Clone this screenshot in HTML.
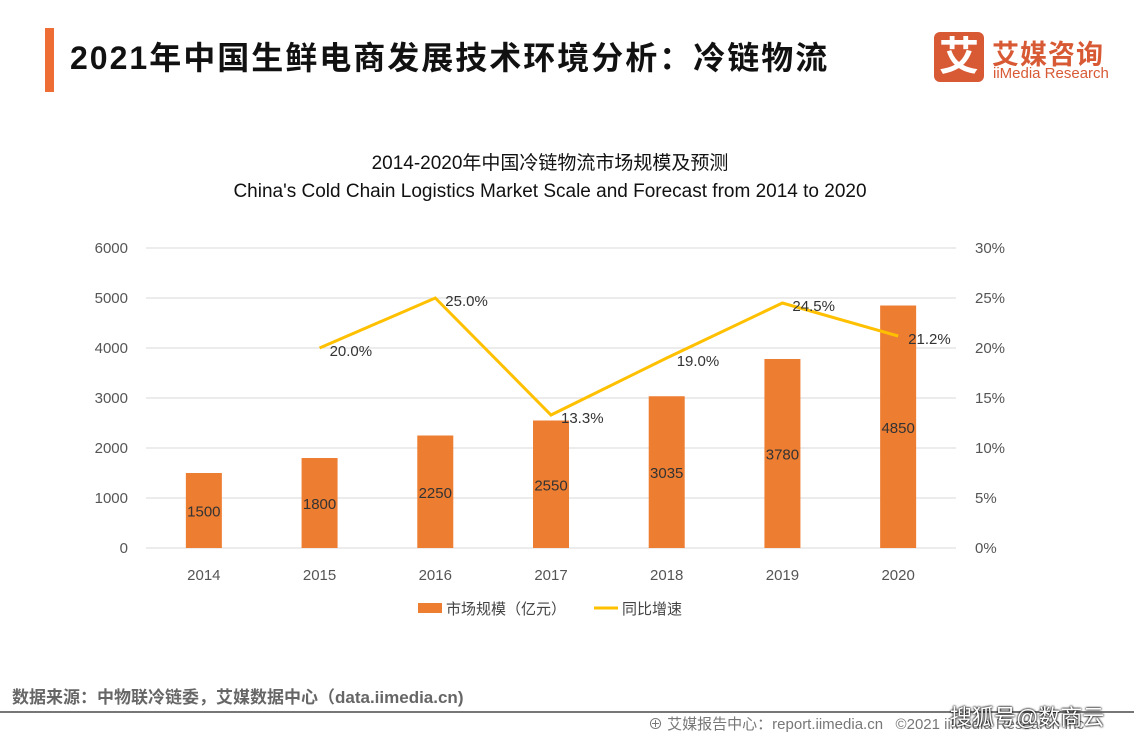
<!DOCTYPE html>
<html><head><meta charset="utf-8"><style>
body{margin:0;width:1134px;height:737px;background:#fff;position:relative;overflow:hidden;font-family:"Liberation Sans","Noto Sans CJK SC",sans-serif}
.a{position:absolute;white-space:nowrap}
</style></head><body>
<div class="a" style="left:45px;top:28px;width:9px;height:64px;background:#ed6d35"></div>
<div class="a" style="left:70px;top:33px;font-size:32px;font-weight:bold;color:#111;letter-spacing:2px">2021年中国生鲜电商发展技术环境分析：冷链物流</div>
<div class="a" style="left:934px;top:32px;width:50px;height:50px;background:#d85a35;border-radius:6px;color:#fff;font-size:40px;text-align:center;line-height:50px;font-weight:bold">艾</div>
<div class="a" style="left:992px;top:33px;font-size:27px;color:#d85a35;font-weight:bold;letter-spacing:1px">艾媒咨询</div>
<div class="a" style="left:993px;top:65px;font-size:15px;color:#d85a35">iiMedia Research</div>
<div class="a" style="left:0;width:1100px;top:150px;text-align:center;font-size:19px;color:#111;line-height:28px">2014-2020年中国冷链物流市场规模及预测<br>China's Cold Chain Logistics Market Scale and Forecast from 2014 to 2020</div>
<svg class="a" style="left:0;top:0" width="1134" height="737" id="c"></svg>
<div class="a" style="left:12px;top:683px;font-size:17px;font-weight:bold;color:#666">数据来源：中物联冷链委，艾媒数据中心（data.iimedia.cn)</div>
<div class="a" style="left:0;top:711px;width:1134px;height:2px;background:#777"></div>
<div class="a" style="left:648px;top:713px;font-size:15px;color:#777">⊕ 艾媒报告中心：report.iimedia.cn &nbsp; ©2021 iiMedia Research Inc</div>
<div class="a" style="left:950px;top:700px;font-size:22px;color:#fff;text-shadow:0 0 2px #000,0 0 2px #000">搜狐号@数商云</div>
<script>
const years=["2014","2015","2016","2017","2018","2019","2020"];
const scale=[1500,1800,2250,2550,3035,3780,4850];
const growth=[null,20.0,25.0,13.3,19.0,24.5,21.2];
const leftTicks=[0,1000,2000,3000,4000,5000,6000];
const rightTicks=["0%","5%","10%","15%","20%","25%","30%"];
const NS="http://www.w3.org/2000/svg",s=document.getElementById('c');
const x0=146,x1=956,y0=548,y1=248,bw=(x1-x0)/years.length;
const xs=i=>x0+bw*(i+.5),yl=v=>y0-(v/6000)*(y0-y1),yr=v=>y0-(v/30)*(y0-y1);
function mk(t,a,txt){const e=document.createElementNS(NS,t);for(const k in a)e.setAttribute(k,a[k]);if(txt!=null)e.textContent=txt;s.appendChild(e);return e}
leftTicks.forEach((v,i)=>{
let g=mk('line',{x1:x0,x2:x1,y1:yl(v),y2:yl(v),stroke:'#d9d9d9','stroke-width':1});


let t=mk('text',{x:128,y:yl(v)+5,'text-anchor':'end','font-size':15,fill:'#555'},v);


let r=mk('text',{x:975,y:yl(v)+5,'font-size':15,fill:'#555'},rightTicks[i]);


});
years.forEach((y,i)=>{
let b=mk('rect',{x:xs(i)-18,y:yl(scale[i]),width:36,height:y0-yl(scale[i]),fill:'#ed7d31'});


let l=mk('text',{x:xs(i),y:(yl(scale[i])+y0)/2+6,'text-anchor':'middle','font-size':15,fill:'#333'},scale[i]);


let t=mk('text',{x:xs(i),y:580,'text-anchor':'middle','font-size':15,fill:'#555'},y);


});
let pts=growth.map((g,i)=>g==null?null:xs(i)+','+yr(g)).filter(p=>p);
let pl=mk('polyline',{points:pts.join(' '),fill:'none',stroke:'#ffc000','stroke-width':3});


growth.forEach((g,i)=>{if(g==null)return;
let t=mk('text',{x:xs(i)+10,y:yr(g)+8,'font-size':15,fill:'#333'},g.toFixed(1)+'%');

});
let lb=mk('rect',{x:418,y:603,width:24,height:10,fill:'#ed7d31'});


let lt=mk('text',{x:446,y:614,'font-size':15,fill:'#444'},'市场规模（亿元）');


let ll=mk('line',{x1:594,x2:618,y1:608,y2:608,stroke:'#ffc000','stroke-width':3});


let lt2=mk('text',{x:622,y:614,'font-size':15,fill:'#444'},'同比增速');


</script>
</body></html>
